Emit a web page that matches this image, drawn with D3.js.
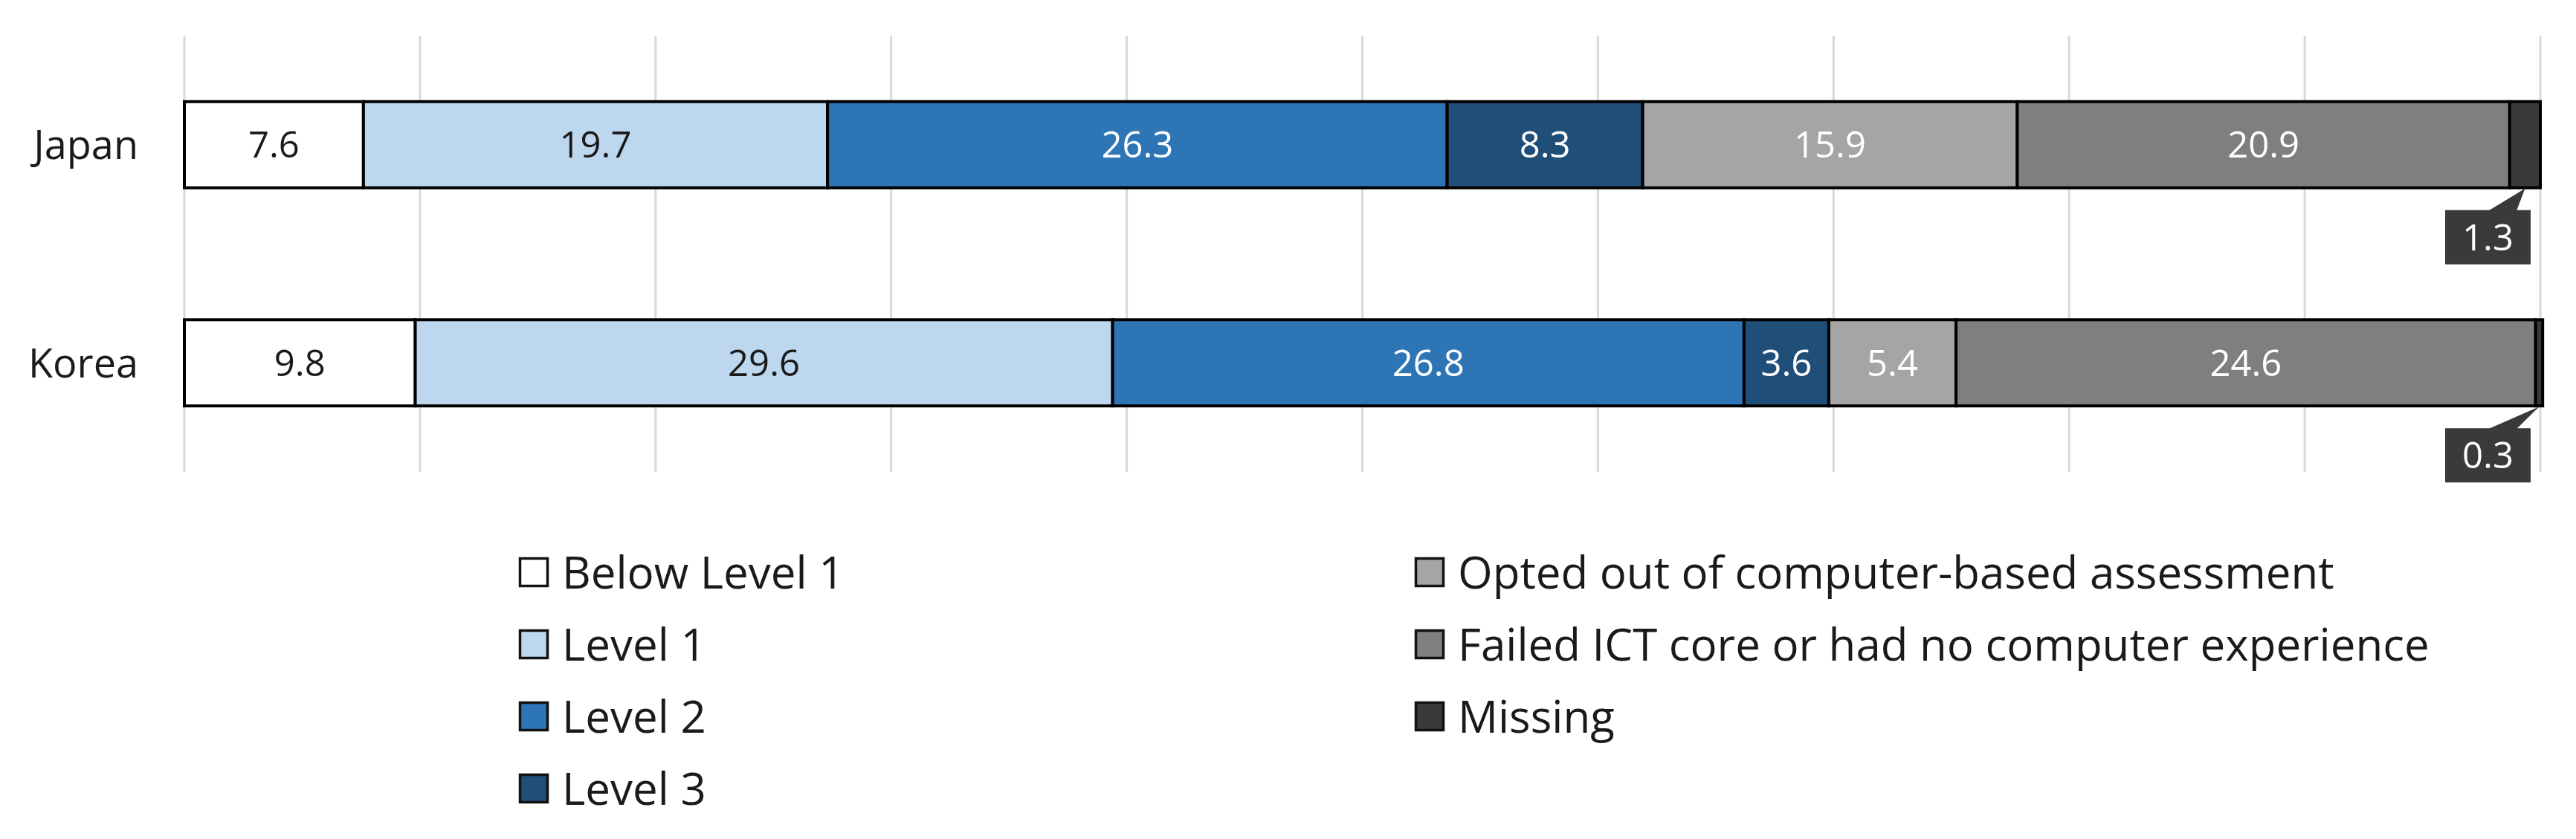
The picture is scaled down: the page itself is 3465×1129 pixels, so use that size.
<!DOCTYPE html>
<html><head><meta charset="utf-8">
<script src="https://cdn.jsdelivr.net/npm/d3@7"></script>
<style>html,body{margin:0;padding:0;background:#fff;} svg{display:block;font-family:"Open Sans",sans-serif;}</style>
</head><body>
<svg id="c" width="3465" height="1129"></svg>
<script>
const countries = ["Japan", "Korea"];
const seriesNames = ["Below Level 1", "Level 1", "Level 2", "Level 3",
  "Opted out of computer-based assessment", "Failed ICT core or had no computer experience", "Missing"];
const belowLevel1 = [7.6, 9.8];
const level1 = [19.7, 29.6];
const level2 = [26.3, 26.8];
const level3 = [8.3, 3.6];
const optedOut = [15.9, 5.4];
const failedICT = [20.9, 24.6];
const missing = [1.3, 0.3];
const xTicks = [0,10,20,30,40,50,60,70,80,90,100];
const colors = ["#ffffff", "#bdd7ee", "#2e75b6", "#1f4e79", "#a5a5a5", "#7f7f7f", "#3a3a3a"];
const textColors = ["#1a1a1a", "#1a1a1a", "#ffffff", "#ffffff", "#ffffff", "#ffffff", "#ffffff"];

const series = [belowLevel1, level1, level2, level3, optedOut, failedICT, missing];
const svg = d3.select("#c");
const x = d3.scaleLinear().domain([0, 100]).range([248, 3417]);
const y = d3.scaleBand().domain(countries).range([48, 635]).paddingInner(0.605).paddingOuter(0.3025);

// gridlines
svg.append("g").selectAll("line").data(xTicks).join("line")
  .attr("x1", d => x(d)).attr("x2", d => x(d)).attr("y1", 48).attr("y2", 635)
  .attr("stroke", "#d9d9d9").attr("stroke-width", 3);

// category labels
svg.append("g").selectAll("text").data(countries).join("text")
  .attr("x", 186).attr("y", d => y(d) + y.bandwidth()/2).attr("dy", "0.36em")
  .attr("text-anchor", "end").attr("font-size", 54).attr("fill", "#1a1a1a").text(d => d);

// stacked segments
const segs = [];
countries.forEach((c, ci) => {
  let acc = 0;
  series.forEach((s, si) => {
    segs.push({c, si, v: s[ci], x0: acc, x1: acc + s[ci]});
    acc += s[ci];
  });
});
const g = svg.append("g");
g.selectAll("rect").data(segs).join("rect")
  .attr("x", d => x(d.x0)).attr("width", d => x(d.x1) - x(d.x0))
  .attr("y", d => y(d.c)).attr("height", y.bandwidth())
  .attr("fill", d => colors[d.si]).attr("stroke", "#000").attr("stroke-width", 4);

g.selectAll("text").data(segs.filter(d => d.si < 6)).join("text")
  .attr("x", d => (x(d.x0) + x(d.x1))/2).attr("y", d => y(d.c) + y.bandwidth()/2).attr("dy", "0.36em")
  .attr("text-anchor", "middle").attr("font-size", 49).attr("fill", d => textColors[d.si])
  .text(d => d.v.toFixed(1));

// callouts for Missing
const bw = 115, bh = 73;
segs.filter(d => d.si === 6).forEach(d => {
  const tipX = (x(d.x0) + x(d.x1))/2;
  const tipY = y(d.c) + y.bandwidth();
  const bx = 3289, by = tipY + 30;
  const cg = svg.append("g");
  cg.append("path")
    .attr("d", `M${bx+58},${by+1} L${tipX},${tipY+1} L${bx+96},${by+1} Z`)
    .attr("fill", "#3a3a3a");
  cg.append("rect").attr("x", bx).attr("y", by).attr("width", bw).attr("height", bh).attr("fill", "#3a3a3a");
  cg.append("text").attr("x", bx + bw/2).attr("y", by + bh/2).attr("dy", "0.36em")
    .attr("text-anchor", "middle").attr("font-size", 49).attr("fill", "#fff").text(d.v.toFixed(1));
});

// legend
const legendItems = seriesNames.map((n, i) => ({n, i,
  col: i < 4 ? 0 : 1, row: i < 4 ? i : i - 4}));
const colX = [698, 1903], rowY0 = 770, rowStep = 97;
const lg = svg.append("g").selectAll("g").data(legendItems).join("g")
  .attr("transform", d => `translate(${colX[d.col]},${rowY0 + d.row*rowStep})`);
lg.append("rect").attr("x", 1.5).attr("y", -18.5).attr("width", 37).attr("height", 37)
  .attr("fill", d => colors[d.i]).attr("stroke", "#111").attr("stroke-width", 3.5);
lg.append("text").attr("x", 58).attr("y", 0).attr("dy", "0.36em")
  .attr("font-size", 60).attr("fill", "#1a1a1a").text(d => d.n);
</script>
</body></html>
